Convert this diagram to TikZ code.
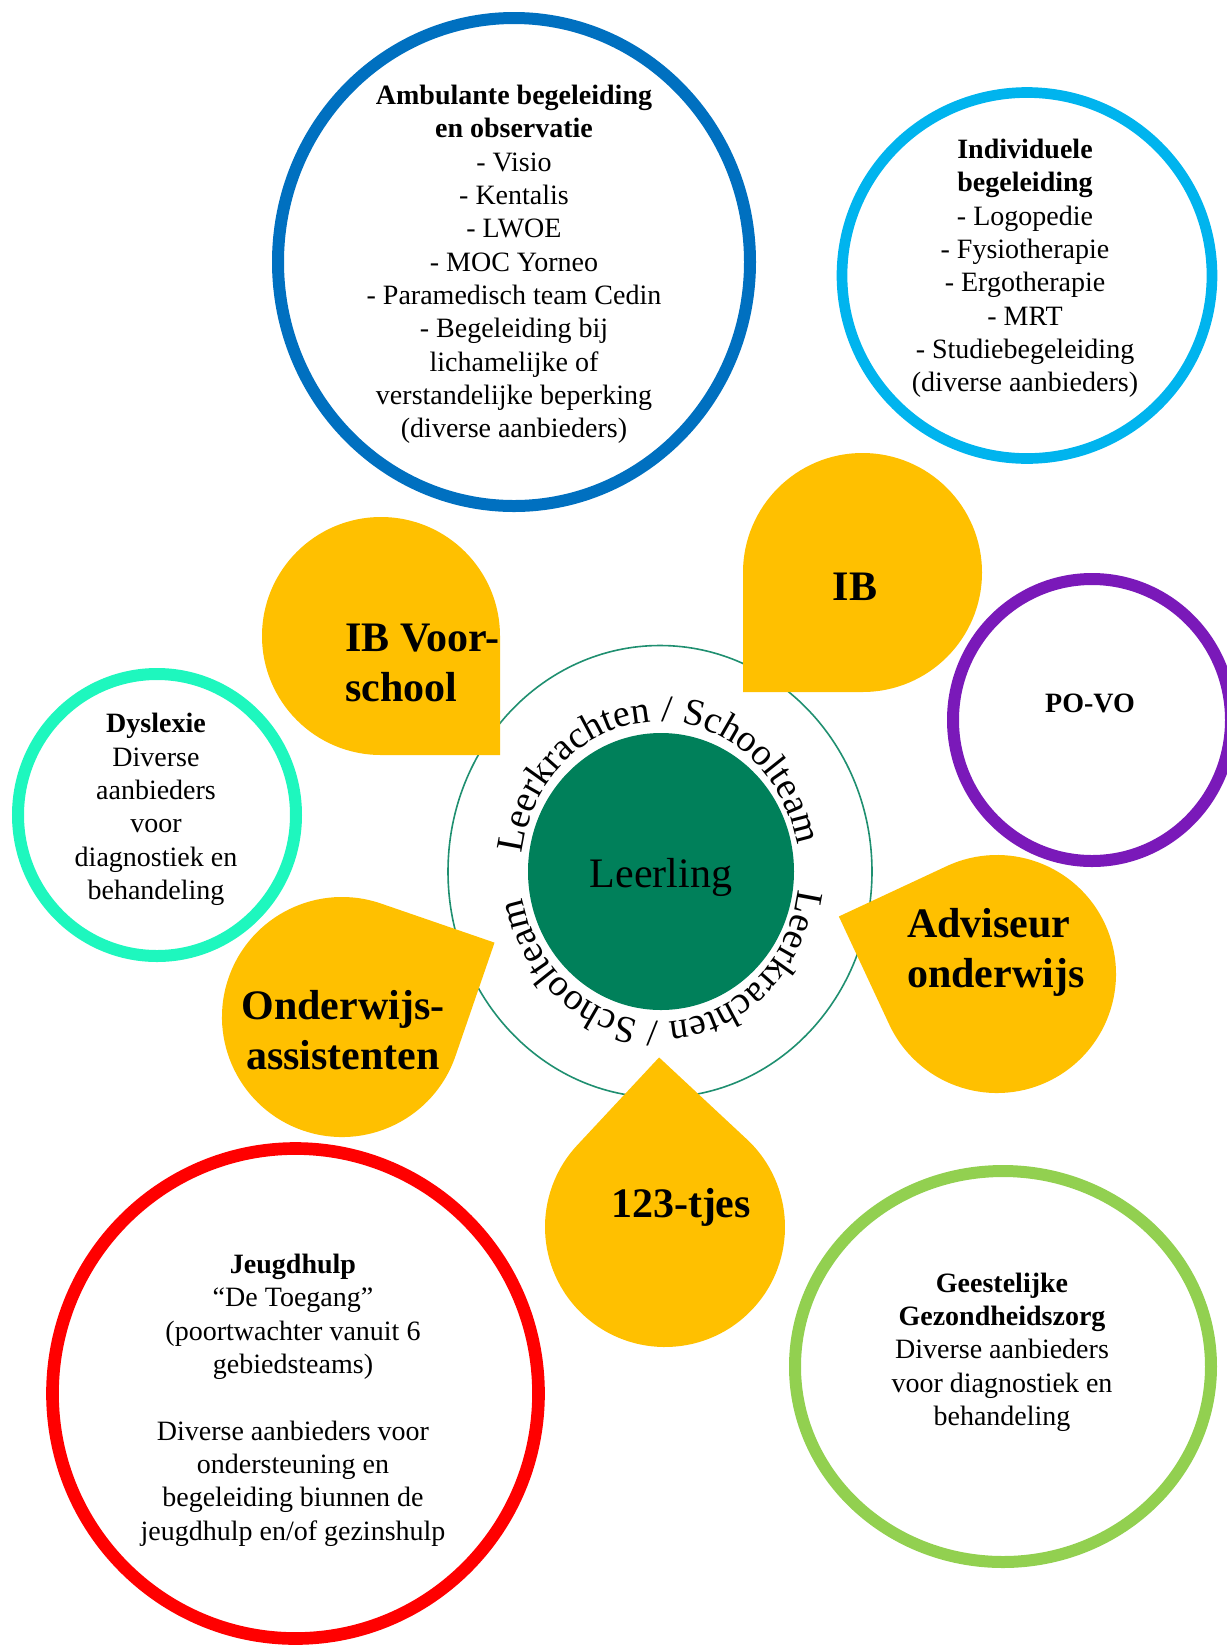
\documentclass[tikz,border=0pt]{standalone}
\usepackage{fontspec}
\setmainfont{Liberation Serif}
\usetikzlibrary{decorations.text}
\definecolor{gold}{HTML}{FFC000}
\definecolor{leerling}{HTML}{00805A}
\definecolor{kring}{HTML}{1F8F70}
\definecolor{ambulant}{HTML}{0070C0}
\definecolor{individu}{HTML}{00B4EE}
\definecolor{povo}{HTML}{7A19B9}
\definecolor{dyslexie}{HTML}{1EF7BE}
\definecolor{jeugd}{HTML}{FF0000}
\definecolor{ggz}{HTML}{92D050}
\newcommand{\ringfont}{\fontsize{21}{25}\selectfont}
\newcommand{\dropfont}{\fontsize{31.5}{37.5}\selectfont\bfseries}
\newcommand{\curvefont}{\fontsize{28.5}{30}\selectfont}

\begin{document}
\begin{tikzpicture}[x=0.75pt, y=0.75pt,
    ring/.style={draw=#1},
    drop/.style={fill=gold},
    ringtext/.style={align=center, inner sep=0pt, font=\ringfont},
    droptext/.style={inner sep=0pt, font=\dropfont}]
  \useasboundingbox (0,0) rectangle (1227,-1647);
  % outer rings
  \foreach \cx/\cy/\rx/\ry/\col/\lw in {514/262/236/244/ambulant/9pt,
      1027/275.5/185/183/individu/8pt, 1092/720/139/141/povo/9pt,
      157/815/139/141/dyslexie/9pt, 295.5/1393.5/243/245/jeugd/9.5pt,
      1003/1366.5/208/195.5/ggz/9pt}
    \draw[ring=\col, line width=\lw] (\cx,-\cy) ellipse[x radius=\rx, y radius=\ry];
  % centre: leerling with team around it
  \draw[kring, line width=1.2pt] (660,-871.5) ellipse[x radius=212, y radius=226];
  \fill[leerling] (661,-871.5) ellipse[x radius=133, y radius=138.5];
  \foreach \a in {173,-7}
    \path[decorate, decoration={text along path,
        text={|\curvefont|Leerkrachten / Schoolteam}}]
      (660,-871.5) ++(\a:139 and 150)
      arc[start angle=\a, delta angle=-180, x radius=139, y radius=150];
  \node[font=\fontsize{31.5}{36}\selectfont, anchor=base] (leerling) at (661,-887) {Leerling};
  % teardrops
  \foreach \cx/\cy/\r/\a in {381/636/119/-45, 862.5/572.5/119.5/225,
      342/1017/120/26, 997/974/119/160, 665/1227/120/92}
    \fill[drop] (\cx,-\cy) ++(\a:1.4142*\r) -- ++(\a+135:\r)
      arc[start angle=\a+45, delta angle=270, radius=\r] -- cycle;
  \node[droptext, align=left, anchor=west] (ibvoor) at (345,-663) {IB Voor-\\school};
  \node[droptext, anchor=base] (ib) at (855,-600) {IB};
  \node[droptext, align=center] (onderwijsass) at (343,-1030) {Onderwijs-\\assistenten};
  \node[droptext, align=left, anchor=west] (adviseur) at (907,-952.5) {Adviseur\\onderwijs};
  \node[droptext, anchor=base] (tjes) at (681,-1217) {123-tjes};
  % ring texts
  \node[ringtext] (ambulantbeg) at (514,-264.5) {\textbf{Ambulante begeleiding}\\
    \textbf{en observatie}\\ - Visio\\ - Kentalis\\ - LWOE\\ - MOC Yorneo\\
    - Paramedisch team Cedin\\ - Begeleiding bij\\ lichamelijke of\\
    verstandelijke beperking\\ (diverse aanbieders)};
  \node[ringtext] (individueel) at (1025,-268.5) {\textbf{Individuele}\\
    \textbf{begeleiding}\\ - Logopedie\\ - Fysiotherapie\\ - Ergotherapie\\
    - MRT\\ - Studiebegeleiding\\ (diverse aanbieders)};
  \node[ringtext, anchor=base] (povovo) at (1090,-712) {\textbf{PO-VO}};
  \node[ringtext] (dyslex) at (156,-809.5) {\textbf{Dyslexie}\\ Diverse\\
    aanbieders\\ voor\\ diagnostiek en\\ behandeling};
  \node[ringtext] (jeugdhulp) at (293,-1400) {\textbf{Jeugdhulp}\\
    “De Toegang”\\ (poortwachter vanuit 6\\ gebiedsteams)\\[25pt]
    Diverse aanbieders voor\\ ondersteuning en\\ begeleiding biunnen de\\
    jeugdhulp en/of gezinshulp};
  \node[ringtext] (geestelijk) at (1002,-1352) {\textbf{Geestelijke}\\
    \textbf{Gezondheidszorg}\\ Diverse aanbieders\\ voor diagnostiek en\\
    behandeling};
\end{tikzpicture}
\end{document}
